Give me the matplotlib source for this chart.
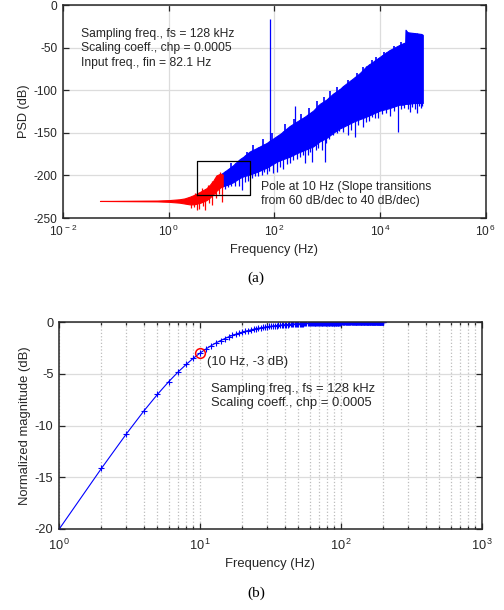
import matplotlib
matplotlib.use('Agg')
import numpy as np
import matplotlib.pyplot as plt
from matplotlib.ticker import FixedLocator, FixedFormatter, LogLocator, NullLocator, NullFormatter

plt.rcParams['font.family'] = ['Liberation Sans', 'DejaVu Sans']
plt.rcParams['mathtext.fontset'] = 'custom'
plt.rcParams['mathtext.rm'] = 'Liberation Sans'
plt.rcParams['mathtext.it'] = 'Liberation Sans:italic'
plt.rcParams['axes.unicode_minus'] = False

# ---- (a) PSD, values ----
# red part (below the pole): flat floor then rising noise
red_f = [0.05, 0.6, 1.0, 1.6, 2.0, 2.5, 3.0, 4.0, 5.2, 6.0, 7.0, 8.0, 9.5, 10.5]
red_hi = [-230, -229.5, -229, -228, -227, -225, -223, -219, -215, -211, -206, -200, -198, -199]
red_lo = [-230, -230.5, -231, -232, -233, -234, -234, -232, -229, -226, -222, -218, -214, -213]
red_spike_f = [2.6, 3.0, 3.2, 3.4, 3.7, 4.2, 4.4, 4.9, 5.5, 5.9, 6.6, 7.5, 8.0, 8.5, 9.0, 9.2, 10.0]
red_spike_lo = [-238, -237, -230, -241, -240, -228, -236, -241, -226, -232, -235, -222, -227, -215, -222, -210, -231]
red_spike_hi = [-228, -226, -221, -224, -222, -215, -218, -216, -211, -212, -207, -203, -204, -199, -200, -196, -205]

# blue part (above the pole): solid band between an upper and a lower edge
band_f = [10, 13, 16.6, 22, 26, 34, 46, 71, 110, 130, 195, 262, 376, 540, 721, 966,
          1290, 1700, 2000, 3100, 4100, 5500, 9800, 15000, 23000, 27000, 29800, 30200,
          33000, 45000, 60000, 64000]
band_hi = [-198, -193, -188, -181, -178, -172, -168, -162, -154, -151, -142, -137, -131,
           -124, -116, -111, -104, -99, -95, -86, -80, -72, -61, -53, -47, -45, -44, -29,
           -32, -33, -34, -35]
band_lo = [-213, -211, -208, -203, -201, -199, -196, -191, -184, -182, -178, -174, -170,
           -166, -160, -156, -150, -145, -143, -137, -134, -131, -124, -121, -117, -117,
           -116, -116, -116, -115, -115, -115]
# downward noise spikes below the band (frequency, depth)
spike_f = [11.5, 13, 15.3, 18, 21, 24, 28, 31, 38, 42, 49, 57, 64, 71, 80, 92,
           110, 125, 146, 170, 195, 225, 262, 300, 340, 376, 434, 470, 510, 600, 680, 780, 890,
           966, 1100, 1290, 1500, 1700, 2000, 2450, 2800, 3300, 3800, 4700, 5500, 6200, 6900,
           8000, 9000, 11000, 13000, 15600, 18000, 21500, 25000, 28000, 33000, 36000, 40000,
           45000, 50000, 55000, 60000, 63000]
spike_db = [-216, -214, -212, -212, -213, -217, -208, -206, -203, -201, -201, -199, -196,
            -198, -195, -197,
            -196, -190, -192, -187, -186, -182, -181, -178, -176, -186, -176, -172, -184,
            -170, -168, -170, -184,
            -162, -157, -153, -150, -148, -149, -153, -147, -155, -141, -143, -137, -136,
            -131, -133, -133, -128, -127, -130, -124, -149, -122, -121, -122, -125, -120,
            -122, -127, -119, -121, -118]
# small teeth on the upper edge of the band
teeth_f = [15, 30, 40, 60, 90, 160, 230, 320, 450, 640, 850, 1150, 1500, 2500, 3600,
           4800, 7000, 8500, 12000, 18000, 25000]
teeth_db = [-186, -172, -164, -157, -150, -140, -134, -128, -121, -113, -108, -101,
            -96, -88, -80, -73, -64, -61, -55, -48, -43]
# upward lines above the band: the 82.1 Hz input tone and a small spur
up_f = [245, 82.1]
up_db = [-118, -17]

fin_text = 'Sampling freq., fs = 128 kHz\nScaling coeff., chp = 0.0005\nInput freq., fin = 82.1 Hz'
pole_text = 'Pole at 10 Hz (Slope transitions\nfrom 60 dB/dec to 40 dB/dec)'
box_x = [3.4, 35, 35, 3.4, 3.4]
box_y = [-223, -223, -183, -183, -223]
xticks_a = [1e-2, 1e0, 1e2, 1e4, 1e6]
xlabels_a = [r'$10^{\,-2}$', r'$10^{\,0}$', r'$10^{\,2}$', r'$10^{\,4}$', r'$10^{\,6}$']

# ---- (b) normalized magnitude, one '+' per Hz from 1 to 200 Hz ----
freq_b = list(range(1, 201))
mag_b = [
    -20.04, -14.15, -10.83, -8.60, -6.99, -5.77, -4.83, -4.09, -3.49, -3.01,
    -2.62, -2.29, -2.02, -1.79, -1.60, -1.43, -1.29, -1.17, -1.06, -0.97,
    -0.89, -0.82, -0.75, -0.70, -0.64, -0.60, -0.56, -0.52, -0.49, -0.46,
    -0.43, -0.40, -0.38, -0.36, -0.34, -0.32, -0.31, -0.29, -0.28, -0.26,
    -0.25, -0.24, -0.23, -0.22, -0.21, -0.20, -0.19, -0.18, -0.18, -0.17,
    -0.16, -0.16, -0.15, -0.15, -0.14, -0.14, -0.13, -0.13, -0.12, -0.12,
    -0.12, -0.11, -0.11, -0.10, -0.10, -0.10, -0.10, -0.09, -0.09, -0.09,
    -0.09, -0.08, -0.08, -0.08, -0.08, -0.07, -0.07, -0.07, -0.07, -0.07,
    -0.07, -0.06, -0.06, -0.06, -0.06, -0.06, -0.06, -0.06, -0.05, -0.05,
    -0.05, -0.05, -0.05, -0.05, -0.05, -0.05, -0.05, -0.05, -0.04, -0.04,
    -0.04, -0.04, -0.04, -0.04, -0.04, -0.04, -0.04, -0.04, -0.04, -0.04,
    -0.04, -0.03, -0.03, -0.03, -0.03, -0.03, -0.03, -0.03, -0.03, -0.03,
    -0.03, -0.03, -0.03, -0.03, -0.03, -0.03, -0.03, -0.03, -0.03, -0.03,
    -0.03, -0.02, -0.02, -0.02, -0.02, -0.02, -0.02, -0.02, -0.02, -0.02,
    -0.02, -0.02, -0.02, -0.02, -0.02, -0.02, -0.02, -0.02, -0.02, -0.02,
    -0.02, -0.02, -0.02, -0.02, -0.02, -0.02, -0.02, -0.02, -0.02, -0.02,
    -0.02, -0.02, -0.02, -0.02, -0.02, -0.02, -0.02, -0.02, -0.02, -0.02,
    -0.01, -0.01, -0.01, -0.01, -0.01, -0.01, -0.01, -0.01, -0.01, -0.01,
    -0.01, -0.01, -0.01, -0.01, -0.01, -0.01, -0.01, -0.01, -0.01, -0.01,
    -0.01, -0.01, -0.01, -0.01, -0.01, -0.01, -0.01, -0.01, -0.01, -0.01,
]
info_text = 'Sampling freq., fs = 128 kHz\nScaling coeff., chp = 0.0005'
xticks_b = [1, 10, 100, 1000]
xlabels_b = [r'$10^{\,0}$', r'$10^{\,1}$', r'$10^{\,2}$', r'$10^{\,3}$']

dark = '#262626'
gridc = '#dcdcdc'


def style(ax, size, xpad):
    ax.tick_params(which='both', direction='in', top=True, right=True,
                   colors=dark, labelsize=size, width=0.9, pad=4)
    ax.tick_params(axis='x', pad=xpad)
    ax.tick_params(which='major', length=4)
    ax.tick_params(which='minor', length=2)
    for s in ax.spines.values():
        s.set_linewidth(1.1)
        s.set_color(dark)


fig = plt.figure(figsize=(5.04, 6.10), dpi=100)

# ---------------- (a) ----------------
ax1 = fig.add_axes([0.125, 0.6426, 0.839, 0.3492])
ax1.set_xscale('log')
ax1.set_xlim(1e-2, 1e6)
ax1.set_ylim(-250, 0)
ax1.xaxis.set_major_locator(FixedLocator(xticks_a))
ax1.xaxis.set_major_formatter(FixedFormatter(xlabels_a))
ax1.xaxis.set_minor_locator(NullLocator())
ax1.set_yticks([0, -50, -100, -150, -200, -250])
ax1.grid(True, which='major', color=gridc, linewidth=0.9)
ax1.set_axisbelow(True)

# spikes and teeth start inside the band, so only their free end shows
spike_top = np.interp(np.log10(spike_f), np.log10(band_f), band_hi)
teeth_base = np.interp(np.log10(teeth_f), np.log10(band_f), band_lo)
ax1.fill_between(band_f, band_lo, band_hi, color='blue', linewidth=0.8)
ax1.vlines(spike_f, spike_db, spike_top, color='blue', linewidth=0.9)
ax1.vlines(teeth_f, teeth_base, teeth_db, color='blue', linewidth=1.2)
ax1.vlines(up_f, -165, up_db, color='blue', linewidth=0.9)
ax1.fill_between(red_f, red_lo, red_hi, color='red', linewidth=0.8)
ax1.vlines(red_spike_f, red_spike_lo, red_spike_hi, color='red', linewidth=0.9)
ax1.plot(box_x, box_y, color='black', linewidth=0.9)

ax1.text(0.022, -27, fin_text, fontsize=8.7, color=dark, va='top', linespacing=1.25)
ax1.text(55, -206, pole_text, fontsize=8.7, color=dark, va='top', linespacing=1.25)
ax1.set_xlabel('Frequency (Hz)', fontsize=9.2, color=dark, labelpad=3)
ax1.set_ylabel('PSD (dB)', fontsize=9.2, color=dark, labelpad=3)
style(ax1, 8.6, 4.5)
fig.text(0.508, 0.5443, '(a)', family=['Liberation Serif', 'DejaVu Serif'],
         fontsize=11, ha='center', va='center')

# ---------------- (b) ----------------
ax2 = fig.add_axes([0.117, 0.1328, 0.839, 0.3393])
ax2.set_xscale('log')
ax2.set_xlim(1, 1000)
ax2.set_ylim(-20, 0)
ax2.xaxis.set_major_locator(FixedLocator(xticks_b))
ax2.xaxis.set_major_formatter(FixedFormatter(xlabels_b))
ax2.xaxis.set_minor_locator(LogLocator(base=10, subs=range(2, 10)))
ax2.xaxis.set_minor_formatter(NullFormatter())
ax2.set_yticks([0, -5, -10, -15, -20])
ax2.grid(True, axis='x', which='both', color='#bdbdbd', linestyle=':', linewidth=0.9)
ax2.grid(True, axis='y', which='major', color=gridc, linewidth=0.9)
ax2.set_axisbelow(True)

ax2.plot(freq_b, mag_b, color='blue', linewidth=0.8, marker='+', markersize=4,
         markeredgewidth=0.8)
ax2.plot([10], [-3], marker='o', markersize=7, markerfacecolor='none',
         markeredgecolor='red', markeredgewidth=1.1)
ax2.text(11.2, -3.9, '(10 Hz, -3 dB)', fontsize=9.4, color=dark, va='center')
ax2.text(12, -5.9, info_text, fontsize=9.4, color=dark, va='top', linespacing=1.2)
ax2.set_xlabel('Frequency (Hz)', fontsize=9.4, color=dark, labelpad=4)
ax2.set_ylabel('Normalized magnitude (dB)', fontsize=9.4, color=dark, labelpad=3)
style(ax2, 9.2, 6)
fig.text(0.508, 0.0279, '(b)', family=['Liberation Serif', 'DejaVu Serif'],
         fontsize=11, ha='center', va='center')

fig.savefig('out.png', dpi=100)
